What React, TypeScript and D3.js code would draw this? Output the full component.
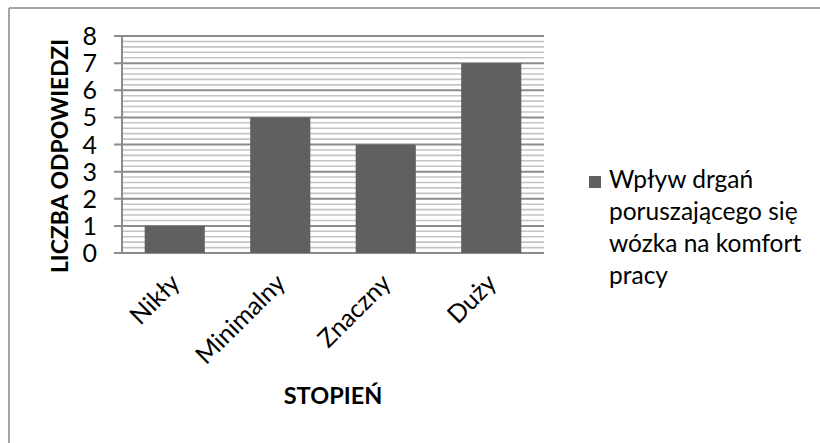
import React from "react";
import * as d3 from "d3";

const categories = ["Nikły", "Minimalny", "Znaczny", "Duży"];
const values = [1, 5, 4, 7];
const yTicks = [0, 1, 2, 3, 4, 5, 6, 7, 8];
const legendLines = ["Wpływ drgań", "poruszającego się", "wózka na komfort", "pracy"];

const W = 820;
const H = 443;
const plot = { left: 122, right: 544, top: 36, bottom: 253 };
const font = "Lato, Carlito, Calibri, sans-serif";
const barColor = "#606060";

const App: React.FC = () => {
  const x = d3
    .scaleBand<string>()
    .domain(categories)
    .range([plot.left, plot.right])
    .paddingInner(0.43)
    .paddingOuter(0.215);
  const y = d3.scaleLinear().domain([0, 8]).range([plot.bottom, plot.top]);
  const minor = d3.range(0, 8.001, 0.2).filter((v) => Math.abs(v - Math.round(v)) > 0.01);

  return (
    <div style={{ position: "absolute", left: 0, top: 0 }}>
      <svg width={W} height={H} style={{ display: "block", background: "#fff" }}>
        {/* outer frame */}
        <line x1={9} x2={W} y1={8} y2={8} stroke="#898989" strokeWidth={1.5} />
        <line x1={9} x2={9} y1={8} y2={H} stroke="#898989" strokeWidth={1.5} />

        {/* hatch fill of plot area */}
        {minor.map((v) => (
          <line key={"m" + v} x1={plot.left} x2={plot.right} y1={y(v)} y2={y(v)} stroke="#c4c4c4" strokeWidth={1.6} />
        ))}
        {yTicks.map((t) => (
          <line key={"g" + t} x1={plot.left - 8} x2={plot.right} y1={y(t)} y2={y(t)} stroke="#8c8c8c" strokeWidth={2} />
        ))}
        <line x1={plot.left} x2={plot.left} y1={plot.top} y2={plot.bottom} stroke="#8c8c8c" strokeWidth={2} />

        {/* bars */}
        {categories.map((c, i) => (
          <rect key={c} x={x(c)} y={y(values[i])} width={x.bandwidth()} height={y(0) - y(values[i])} fill={barColor} />
        ))}

        {/* y tick labels */}
        {yTicks.map((t) => (
          <text key={"t" + t} x={97} y={y(t)} dy="0.36em" textAnchor="end" fontFamily={font} fontSize={25} fill="#000">
            {t}
          </text>
        ))}

        {/* x tick labels */}
        {categories.map((c) => {
          const cx = (x(c) ?? 0) + x.bandwidth() / 2 - 6;
          const cy = plot.bottom + 19;
          return (
            <text
              key={"c" + c}
              transform={`translate(${cx},${cy}) rotate(-45)`}
              textAnchor="end"
              dy="0.72em"
              fontFamily={font}
              fontSize={25}
              fill="#000"
            >
              {c}
            </text>
          );
        })}

        {/* axis titles */}
        <text
          transform={`translate(68,156) rotate(-90)`}
          textAnchor="middle"
          fontFamily={font}
          fontWeight="bold"
          fontSize={23}
        >
          LICZBA ODPOWIEDZI
        </text>
        <text x={333} y={404} textAnchor="middle" fontFamily={font} fontWeight="bold" fontSize={23.5}>
          STOPIEŃ
        </text>

        {/* legend */}
        <rect x={589} y={176} width={12} height={12} fill={barColor} />
        {legendLines.map((l, i) => (
          <text key={l} x={609} y={188 + i * 32} fontFamily={font} fontSize={24.5} fill="#000">
            {l}
          </text>
        ))}
      </svg>
    </div>
  );
};

export default App;
